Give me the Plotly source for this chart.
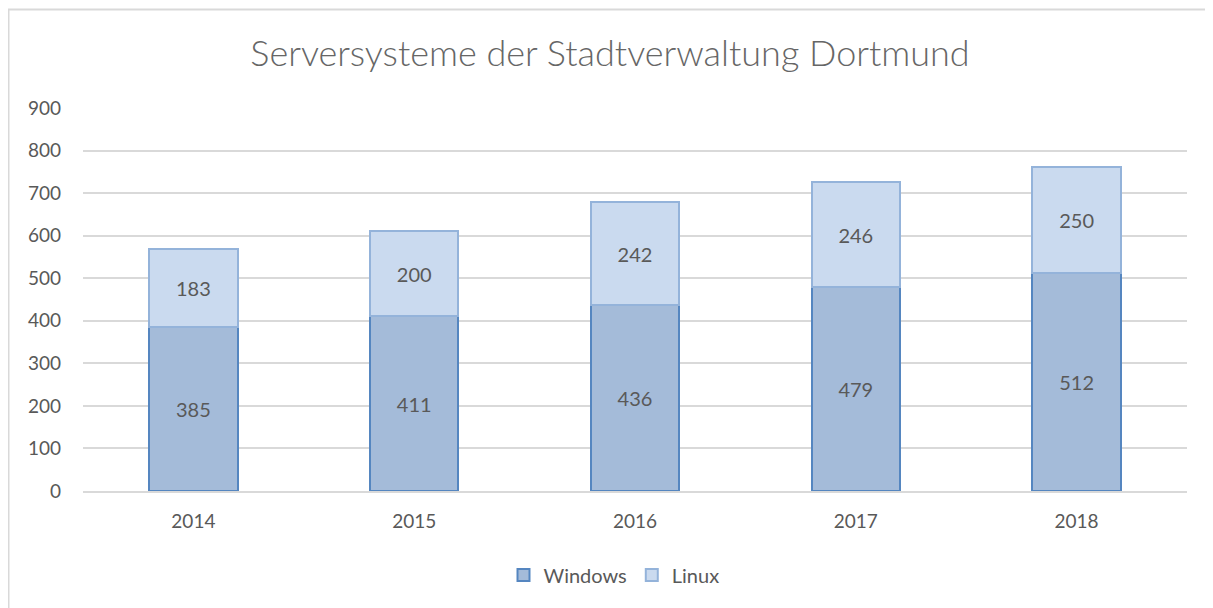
import plotly.graph_objects as go

years = ["2014", "2015", "2016", "2017", "2018"]
windows = [385, 411, 436, 479, 512]
linux = [183, 200, 242, 246, 250]
y_ticks = [0, 100, 200, 300, 400, 500, 600, 700, 800, 900]

FONT = "Lato, 'Open Sans', sans-serif"
GREY = "#595959"

fig = go.Figure()
fig.add_trace(go.Bar(
    x=years, y=windows, name="Windows",
    marker=dict(color="#a4bbd9", line=dict(color="#5586c0", width=2)),
    text=windows, textposition="inside", insidetextanchor="middle",
    textfont=dict(color=GREY, size=20, family=FONT),
))
fig.add_trace(go.Bar(
    x=years, y=linux, name="Linux",
    marker=dict(color="#cadaef", line=dict(color="#94b3da", width=2)),
    text=linux, textposition="inside", insidetextanchor="middle",
    textfont=dict(color=GREY, size=20, family=FONT),
))

# page has an 8px body margin: figure origin is at (8, 8)
OFF = 8
W, H = 1213 - OFF, 608 - OFF
L = 83 - OFF
T = 108 - OFF
R = W - (1187 - OFF)
B = H - (491 - OFF)
pw, ph = W - L - R, H - T - B

def px_x(x):
    return (x - OFF - L) / pw

def px_y(y):
    return (H - B - (y - OFF)) / ph

fig.update_layout(
    width=W, height=H,
    barmode="stack", bargap=0.6,
    paper_bgcolor="white", plot_bgcolor="white",
    margin=dict(l=L, r=R, t=T, b=B),
    font=dict(family=FONT, color=GREY, size=20),
    title=dict(text="Serversysteme der Stadtverwaltung Dortmund",
               x=(610 - OFF) / W, xanchor="center", y=1 - (53 - OFF) / H, yanchor="middle",
               font=dict(size=36, color="#666666", family=FONT, weight=300)),
    xaxis=dict(showgrid=False, showline=True, linecolor="#d9d9d9", linewidth=2,
               tickfont=dict(size=19, color=GREY), ticklabelstandoff=12),
    yaxis=dict(range=[0, 900], tickvals=y_ticks, showgrid=True, gridcolor="#d9d9d9",
               gridwidth=2, zeroline=False, showline=False,
               tickfont=dict(size=19, color=GREY), ticklabelstandoff=21),
    legend=dict(orientation="h", x=px_x(614), xanchor="center",
                y=px_y(575), yanchor="middle", traceorder="normal",
                font=dict(size=20, color=GREY), itemwidth=30, tracegroupgap=0),
    showlegend=True,
)
fig.add_shape(type="rect", xref="paper", yref="paper",
              x0=px_x(8.5), x1=1.2, y0=-0.5, y1=px_y(9.5),
              line=dict(color="#d9d9d9", width=2), fillcolor="rgba(0,0,0,0)", layer="below")

fig.write_html("out.html")
